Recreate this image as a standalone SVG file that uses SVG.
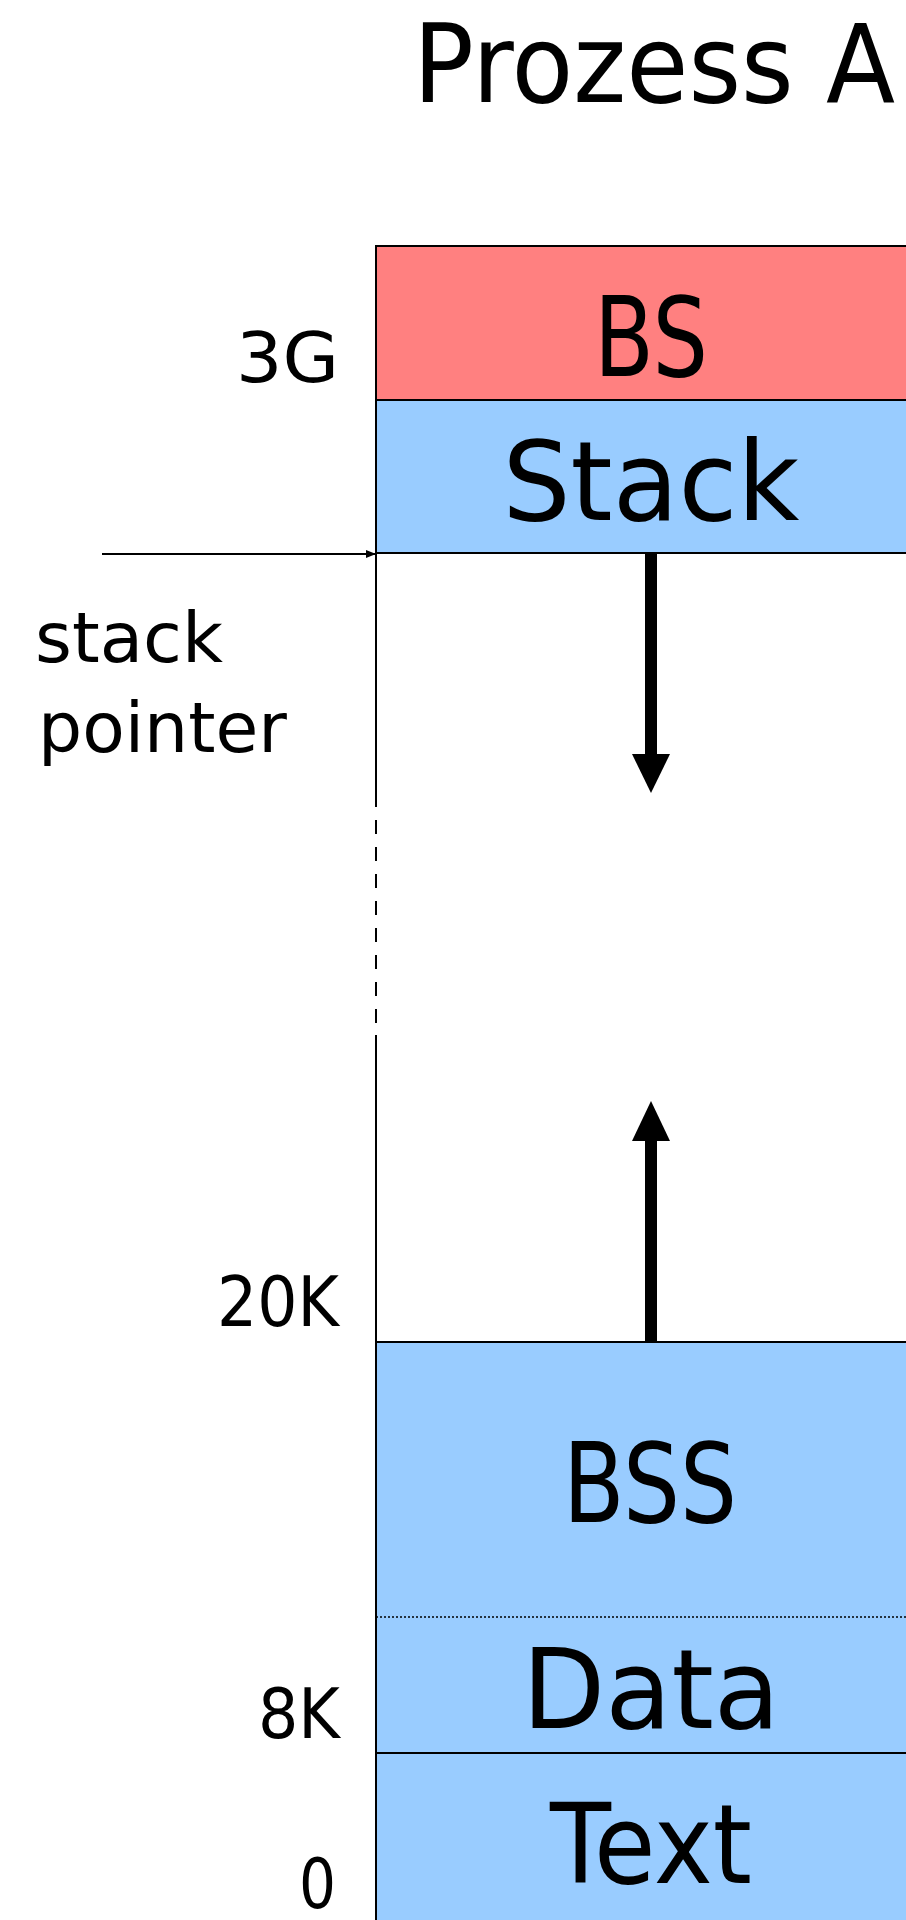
<svg xmlns="http://www.w3.org/2000/svg" width="906" height="1920" viewBox="0 0 906 1920">
<style>
text{font-family:"DejaVu Sans","Liberation Sans",sans-serif;fill:#000}
.seg{stroke:#000;stroke-width:2}
.big{font-size:110px;text-anchor:middle}
.lbl{font-size:70px;text-anchor:end}
.side{font-size:70px}
</style>
<defs>
<marker id="sp" markerWidth="10" markerHeight="8" refX="9" refY="4" orient="auto" markerUnits="userSpaceOnUse">
<path d="M0,0 L10,4 L0,8 z" fill="#000"/>
</marker>
</defs>
<rect width="906" height="1920" fill="#fff"/>
<text id="title" x="413" y="102" font-size="108" textLength="482" lengthAdjust="spacingAndGlyphs">Prozess A</text>

<g id="bs"><rect class="seg" x="376" y="246" width="560" height="154" fill="#FF8080"/><text class="big" x="651" y="376" textLength="114" lengthAdjust="spacingAndGlyphs">BS</text></g>
<g id="stack"><rect class="seg" x="376" y="400" width="560" height="153" fill="#99CCFF"/><text class="big" x="651" y="520" textLength="297" lengthAdjust="spacingAndGlyphs">Stack</text></g>
<g id="bss"><rect class="seg" x="376" y="1342" width="560" height="411" fill="#99CCFF"/><text class="big" x="650" y="1522" textLength="174" lengthAdjust="spacingAndGlyphs">BSS</text>
<line x1="376" y1="1617" x2="906" y2="1617" stroke="#000" stroke-width="1.5" stroke-dasharray="2,2"/></g>
<g id="data"><text class="big" x="651" y="1728" textLength="258" lengthAdjust="spacingAndGlyphs">Data</text></g>
<g id="text"><rect class="seg" x="376" y="1753" width="560" height="200" fill="#99CCFF"/><text class="big" x="651" y="1883" textLength="202" lengthAdjust="spacingAndGlyphs">Text</text></g>

<g id="gap">
<line class="seg" x1="376" y1="553" x2="376" y2="793"/>
<line class="seg" x1="376" y1="793" x2="376" y2="1035" stroke-dasharray="14,13"/>
<line class="seg" x1="376" y1="1035" x2="376" y2="1342"/>
</g>

<g id="labels">
<text class="lbl" x="339" y="382" textLength="103" lengthAdjust="spacingAndGlyphs">3G</text>
<text class="lbl" x="339" y="1326" textLength="122" lengthAdjust="spacingAndGlyphs">20K</text>
<text class="lbl" x="340" y="1738" textLength="82" lengthAdjust="spacingAndGlyphs">8K</text>
<text class="lbl" x="336" y="1908" textLength="37" lengthAdjust="spacingAndGlyphs">0</text>
<text class="side" x="35" y="662" textLength="188" lengthAdjust="spacingAndGlyphs">stack</text>
<text class="side" x="38" y="752" textLength="249" lengthAdjust="spacingAndGlyphs">pointer</text>
</g>

<g id="connectors">
<line x1="102" y1="554" x2="375" y2="554" stroke="#000" stroke-width="2" marker-end="url(#sp)"/>
<line x1="651" y1="553" x2="651" y2="756" stroke="#000" stroke-width="12"/>
<polygon points="632,754 670,754 651,793" fill="#000"/>
<line x1="651" y1="1342" x2="651" y2="1139" stroke="#000" stroke-width="12"/>
<polygon points="632,1141 670,1141 651,1101" fill="#000"/>
</g>
</svg>
